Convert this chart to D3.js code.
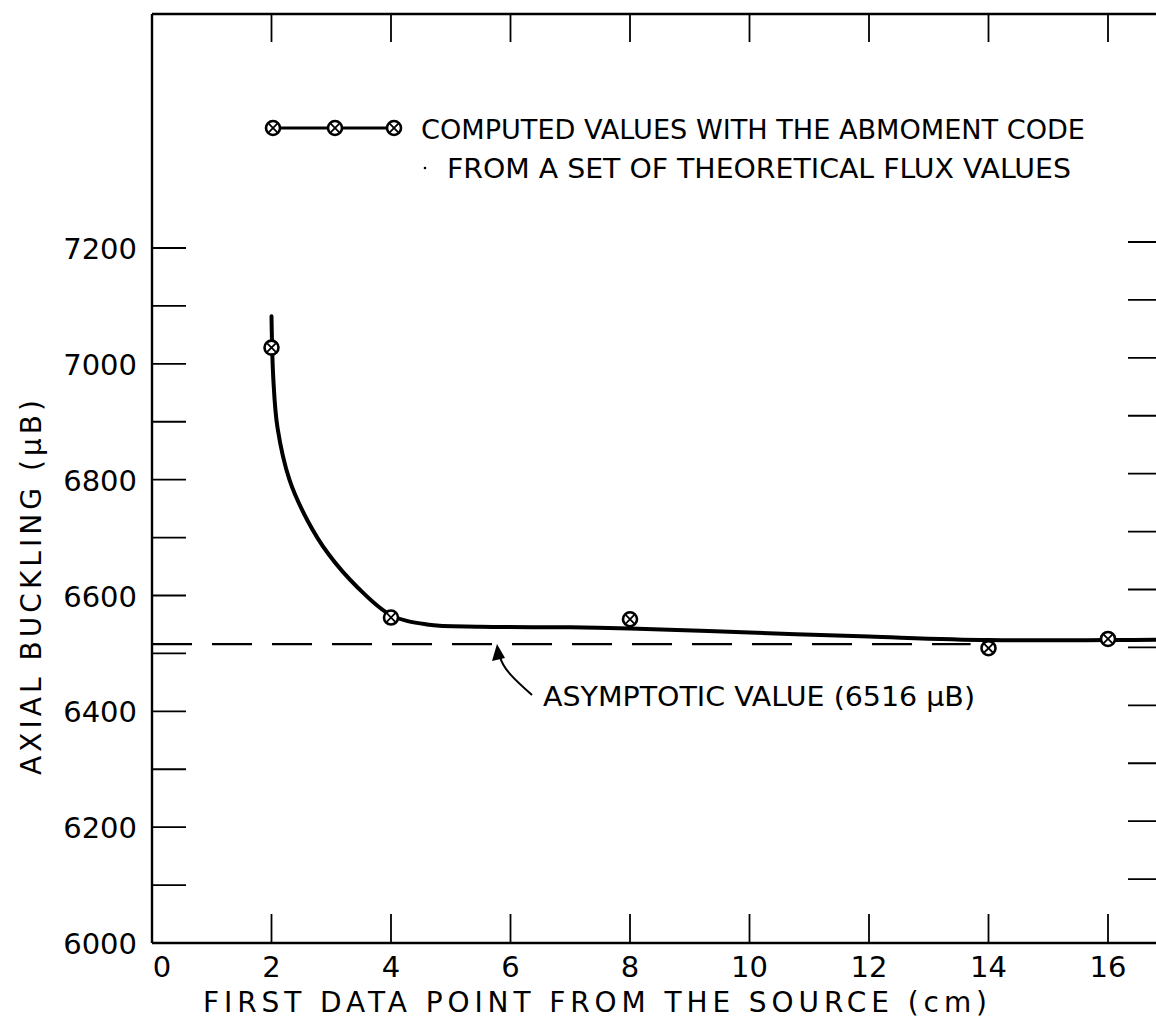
<!DOCTYPE html>
<html><head><meta charset="utf-8">
<script src="https://cdn.jsdelivr.net/npm/d3@7"></script>
<style>
html,body{margin:0;padding:0;background:#fff;}
svg{display:block;}
text{font-family:"DejaVu Sans","Liberation Sans",sans-serif;fill:#000;}
</style></head>
<body>
<script>
// ---- data ----
const xTicks = [0, 2, 4, 6, 8, 10, 12, 14, 16];
const yTickLabels = [6000, 6200, 6400, 6600, 6800, 7000, 7200];
const yMinorTicks = [6100, 6200, 6300, 6400, 6500, 6600, 6700, 6800, 6900, 7000, 7100, 7200];
const pointX = [2, 4, 8, 14, 16];
const pointY = [7028, 6562, 6559, 6509, 6525];
const curveX = [2.0, 2.03, 2.1, 2.3, 2.6, 2.95, 3.45, 4.0, 4.6, 5.5, 7, 8, 10, 12, 14, 16, 17.2];
const curveY = [7082, 6975, 6890, 6800, 6730, 6672, 6613, 6566, 6550, 6546, 6545, 6543, 6536, 6529, 6523, 6523, 6524];
const asymptote = 6516;
const legendLines = ["COMPUTED VALUES WITH THE ABMOMENT CODE", "FROM A SET OF THEORETICAL FLUX VALUES"];
const xTitle = "FIRST DATA POINT FROM THE SOURCE (cm)";
const yTitle = "AXIAL BUCKLING (\u03BCB)";
const annotation = "ASYMPTOTIC VALUE (6516 \u03BCB)";

(function () {
const W = 1156, H = 1024;
const svg = d3.select("body").append("svg").attr("width", W).attr("height", H);

const x = d3.scaleLinear().domain([0, 16]).range([152, 1108]);
const y = d3.scaleLinear().domain([6000, 7200]).range([943, 248]);
const pTop = 14, pBottom = 943, pLeft = 152;

const g = svg.append("g").attr("stroke", "#000").attr("fill", "none");

// frame
g.append("line").attr("x1", pLeft).attr("x2", W + 5).attr("y1", pTop).attr("y2", pTop).attr("stroke-width", 2.4);
g.append("line").attr("x1", pLeft).attr("x2", pLeft).attr("y1", pTop).attr("y2", pBottom).attr("stroke-width", 2.4);
g.append("line").attr("x1", pLeft).attr("x2", W + 5).attr("y1", pBottom).attr("y2", pBottom).attr("stroke-width", 2.4);

// x ticks bottom & top
const xt = xTicks.filter(d => d > 0);
g.selectAll(".xtb").data(xt).enter().append("line")
  .attr("x1", d => x(d)).attr("x2", d => x(d)).attr("y1", pBottom).attr("y2", pBottom - 29).attr("stroke-width", 1.8);
g.selectAll(".xtt").data(xt).enter().append("line")
  .attr("x1", d => x(d)).attr("x2", d => x(d)).attr("y1", pTop).attr("y2", pTop + 28).attr("stroke-width", 1.8);

// y ticks left & right
g.selectAll(".ytl").data(yMinorTicks).enter().append("line")
  .attr("x1", pLeft).attr("x2", pLeft + 34).attr("y1", d => y(d)).attr("y2", d => y(d)).attr("stroke-width", 1.8);
g.selectAll(".ytr").data(yMinorTicks).enter().append("line")
  .attr("x1", 1128).attr("x2", W + 5).attr("y1", d => y(d) - 6).attr("y2", d => y(d) - 6).attr("stroke-width", 1.8);

// tick labels
svg.selectAll(".xl").data(xTicks).enter().append("text")
  .attr("x", d => x(d) + (d === 0 ? 10 : 0)).attr("y", 977)
  .attr("text-anchor", "middle").attr("font-size", 29).text(d => d);
svg.selectAll(".yl").data(yTickLabels).enter().append("text")
  .attr("x", 137).attr("y", d => y(d) + 11)
  .attr("text-anchor", "end").attr("font-size", 29).text(d => d);

// axis titles
svg.append("text").attr("x", 203).attr("y", 1012).attr("font-size", 28)
  .attr("textLength", 784).attr("lengthAdjust", "spacing").text(xTitle);
svg.append("text").attr("transform", "translate(41,775) rotate(-90)").attr("font-size", 28)
  .attr("textLength", 375).attr("lengthAdjust", "spacing").text(yTitle);

// asymptote dashed
g.append("line").attr("x1", pLeft).attr("x2", x(13.7)).attr("y1", y(asymptote)).attr("y2", y(asymptote))
  .attr("stroke-width", 2.2).attr("stroke-dasharray", "40,20");

// fitted curve
const line = d3.line().x(d => x(d[0])).y(d => y(d[1])).curve(d3.curveCatmullRom.alpha(0.5));
const curveData = curveX.map((v, i) => [v, curveY[i]]);
g.append("path").attr("d", line(curveData)).attr("stroke-width", 4).attr("stroke-linecap", "round");

// markers
function marker(sel, cx, cy) {
  const m = sel.append("g").attr("transform", `translate(${cx},${cy})`);
  m.append("circle").attr("r", 7).attr("fill", "#fff").attr("stroke", "#000").attr("stroke-width", 2.6);
  m.append("path").attr("d", "M-4.3,-4.3L4.3,4.3M-4.3,4.3L4.3,-4.3").attr("stroke", "#000").attr("stroke-width", 1.8);
}
pointX.forEach((v, i) => marker(svg, x(v), y(pointY[i])));

// legend
g.append("line").attr("x1", 273).attr("x2", 394).attr("y1", 128).attr("y2", 128).attr("stroke-width", 3.2);
[273, 335, 394].forEach(px => marker(svg, px, 128));
svg.append("text").attr("x", 421).attr("y", 139).attr("font-size", 27)
  .attr("textLength", 664).attr("lengthAdjust", "spacingAndGlyphs").text(legendLines[0]);
svg.append("text").attr("x", 447).attr("y", 178).attr("font-size", 27)
  .attr("textLength", 624).attr("lengthAdjust", "spacingAndGlyphs").text(legendLines[1]);
svg.append("circle").attr("cx", 425).attr("cy", 168).attr("r", 1.3).attr("fill", "#000");

// annotation
svg.append("text").attr("x", 543).attr("y", 706).attr("font-size", 27)
  .attr("textLength", 432).attr("lengthAdjust", "spacingAndGlyphs").text(annotation);
g.append("path").attr("d", "M532,695 C515,680 502,668 500,656").attr("stroke-width", 2);
svg.append("path").attr("d", "M497,644 L492,661 L505,658 Z").attr("fill", "#000");
})();
</script>
</body></html>
